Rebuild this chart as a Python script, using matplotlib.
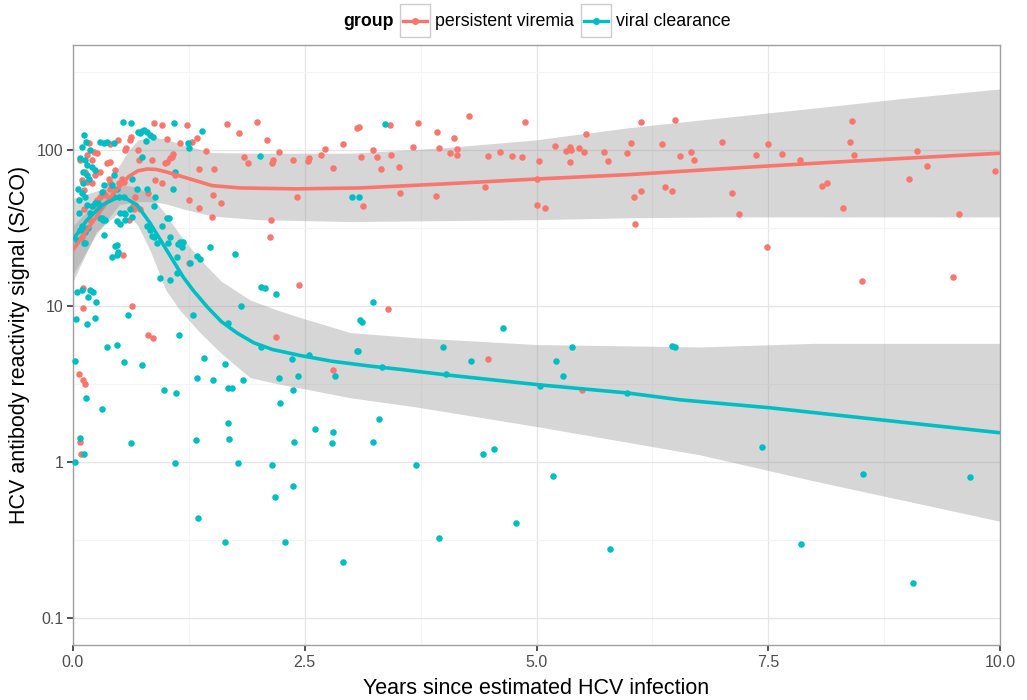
import numpy as np
import matplotlib
matplotlib.use('Agg')
import matplotlib.pyplot as plt
from matplotlib.patches import Rectangle
from matplotlib.lines import Line2D
import matplotlib.ticker as ticker

plt.rcParams['font.family'] = ['Liberation Sans', 'DejaVu Sans']

RED = '#F8766D'
TEAL = '#00BFC4'

# persistent viremia: years since infection, S/CO signal
pv_years = [0.87, 0.96, 1.23, 1.66, 1.99, 1.79, 2.09, 2.22, 3.06, 2.91, 2.72, 2.68, 2.55, 2.54,
            2.80, 2.37, 2.16, 2.15, 1.84, 1.89, 1.52, 1.36, 1.43, 1.34, 1.28, 1.15, 1.25, 1.36,
            1.51, 1.50, 1.60, 2.42, 2.14, 2.13, 2.44, 1.25, 1.08, 1.05, 1.01, 1.01, 0.70, 0.63,
            0.61, 0.57, 0.56, 0.49, 0.40, 0.45, 0.53, 0.40, 0.32, 0.29, 0.26, 0.67, 0.65, 0.54,
            0.64, 0.11, 0.11, 0.81, 0.40, 0.17, 0.23, 0.26, 0.15, 0.20, 0.08, 0.13, 0.24, 0.10,
            0.15, 0.20, 0.12, 0.29, 0.37, 0.39, 0.50, 0.40, 0.35, 0.55, 0.71, 0.85, 0.99, 1.07,
            0.88, 0.96, 1.10, 0.12, 0.26, 0.18, 0.10, 0.60, 0.66, 0.72, 0.06, 0.11, 0.13, 0.81,
            0.86, 2.19, 2.80, 0.08, 0.09, 3.09, 3.42, 3.72, 3.93, 4.11, 4.27, 4.88, 3.24, 3.28,
            3.11, 3.43, 3.32, 3.52, 3.67, 3.95, 4.07, 4.14, 4.14, 4.48, 4.61, 4.74, 4.84, 5.03,
            5.20, 5.32, 5.36, 5.37, 5.36, 5.46, 5.51, 5.53, 5.73, 5.77, 5.98, 6.02, 6.13, 6.35,
            6.49, 6.55, 6.67, 6.70, 3.53, 3.92, 3.13, 4.44, 5.01, 5.09, 6.05, 6.13, 6.39, 6.46,
            6.06, 3.40, 4.48, 5.49, 5.01, 7.00, 7.11, 7.18, 7.37, 7.50, 7.65, 7.84, 8.08, 8.13,
            8.31, 8.38, 8.40, 8.42, 9.02, 9.10, 9.21, 9.56, 9.95, 7.49, 8.51, 9.49]
pv_signal = [150, 146, 146, 148, 152, 129, 117, 98, 139, 110, 102, 94, 89, 85,
             77, 87, 87, 83, 91, 83, 76, 76, 99, 120, 113, 112, 48, 43,
             52, 37.5, 46, 50, 36, 28, 13.7, 19, 95, 89, 84, 118, 101, 122,
             117, 104, 101, 117, 84, 75, 66, 62, 54, 50, 48, 50, 44, 21.4,
             10, 9.8, 13.1, 53, 110, 112, 98, 96, 94, 87, 87, 73, 70, 65,
             63, 62, 56, 73, 83, 66, 62, 57, 52, 63, 87, 87, 83, 91,
             65, 62, 70, 42, 43, 36, 28, 36, 42, 42, 3.7, 3.4, 3.2, 6.6,
             6.3, 6.4, 3.9, 1.35, 1.14, 141, 146, 150, 131, 120, 166, 152, 101, 91,
             91, 94, 76, 78, 105, 104, 96, 102, 94, 92, 98, 92, 91, 85,
             107, 99, 105, 101, 84, 104, 98, 128, 98, 85, 96, 112, 152, 110,
             157, 92, 98, 87, 53, 51, 44, 58, 45, 43, 50, 55, 58, 55,
             34, 9.7, 4.6, 2.9, 66, 113, 53, 39, 94, 110, 95, 87, 59, 62,
             43, 113, 155, 94, 66, 99, 80, 39, 74, 24, 14.5, 15.5]

# viral clearance
vc_years = [0.02, 0.37, 0.47, 0.55, 0.74, 1.14, 1.41, 1.64, 1.34, 1.51, 1.83, 1.67, 1.72, 0.98,
            1.11, 0.14, 0.31, 1.67, 2.23, 2.37, 2.43, 2.22, 2.55, 2.03, 2.36, 2.83, 3.06, 0.08,
            0.12, 0.02, 0.63, 1.33, 1.68, 1.10, 1.78, 2.15, 2.37, 2.61, 2.80, 2.79, 2.38, 2.18,
            1.35, 1.64, 2.29, 2.91, 4.02, 5.29, 5.04, 5.98, 3.30, 3.24, 3.70, 4.42, 4.54, 5.18,
            4.78, 3.95, 5.79, 3.24, 3.12, 4.64, 3.07, 3.99, 4.29, 5.21, 5.38, 6.46, 6.49, 3.33,
            3.37, 3.01, 3.09, 7.43, 8.52, 9.68, 7.85, 9.06, 0.54, 0.63, 1.09, 1.39, 0.70, 0.74,
            0.80, 0.83, 0.86, 0.79, 1.24, 1.25, 2.02, 1.10, 0.69, 0.80, 0.87, 1.01, 0.96, 1.08,
            0.51, 0.47, 0.64, 0.61, 0.56, 0.80, 0.83, 0.85, 0.87, 1.12, 1.13, 1.19, 1.18, 1.02,
            1.05, 0.94, 1.34, 1.37, 1.48, 1.75, 2.03, 2.07, 2.19, 1.81, 1.29, 1.67, 3.10, 0.33,
            0.42, 0.47, 0.49, 0.47, 0.04, 0.10, 0.18, 0.22, 0.16, 0.25, 0.03, 0.15, 0.24, 0.59,
            0.13, 0.16, 0.11, 0.08, 0.32, 0.29, 0.27, 0.12, 0.14, 0.10, 0.29, 0.33, 0.37, 0.44,
            0.18, 0.08, 0.13, 0.15, 0.20, 0.24, 0.11, 0.15, 0.17, 0.11, 0.05, 0.10, 0.06, 0.13,
            0.15, 0.06, 0.20, 0.24, 0.18, 0.31, 0.33, 0.42, 0.44, 0.47, 0.50, 0.44, 0.55, 0.64,
            0.74, 0.72, 0.77, 0.88, 0.31, 0.35, 0.10, 0.13, 0.04, 0.12, 0.55, 0.56, 0.51, 1.04,
            0.91, 0.45, 1.05, 1.15, 1.12, 1.26]
vc_signal = [4.5, 5.5, 5.7, 4.4, 4.2, 6.6, 4.7, 4.3, 3.5, 3.4, 3.4, 3.0, 3.0, 2.9,
             2.8, 2.6, 2.2, 1.8, 2.4, 2.9, 3.6, 3.5, 4.9, 5.5, 4.6, 3.6, 5.2, 1.44,
             1.14, 1.0, 1.33, 1.4, 1.42, 0.99, 0.99, 0.97, 0.71, 1.65, 1.56, 1.33, 1.35, 0.6,
             0.44, 0.31, 0.31, 0.23, 3.7, 3.6, 3.1, 2.8, 1.9, 1.35, 0.97, 1.14, 1.22, 0.82,
             0.41, 0.33, 0.28, 10.7, 7.9, 7.3, 5.2, 5.5, 4.5, 4.5, 5.5, 5.6, 5.5, 4.1,
             148, 50, 50, 1.25, 0.84, 0.81, 0.30, 0.17, 152, 150, 150, 133, 131, 133,
             131, 126, 122, 115, 112, 104, 92, 73, 57, 57, 44, 37, 33, 57,
             40, 35.5, 37.5, 42, 39, 33, 31, 28.3, 27.9, 16.3, 25.2, 25.9, 24, 25.5,
             14.8, 15.2, 21.1, 20.2, 24, 21.7, 13.3, 13.1, 12, 10, 8.8, 7.8, 8.2, 28.7,
             20.8, 24.8, 22.4, 21.4, 12.4, 12.8, 12.8, 12.4, 11.5, 10.6, 8.3, 7.7, 8.4, 8.8,
             25.5, 32, 32, 31, 36, 37, 46, 126, 113, 105, 113, 112, 113, 112,
             101, 89, 87, 81, 78, 75, 73, 70, 66, 62, 57, 53, 48, 50,
             45, 40, 44, 46, 40, 54, 60, 60, 70, 57, 50, 50, 50, 66,
             91, 129, 135, 50, 37, 36, 33, 30, 26.7, 25.5, 40, 36, 34, 37,
             25.5, 24.4, 27.9, 25.9, 20.8, 19]

# loess fits with 95% bands
pv_fit_x = [0, 0.2, 0.4, 0.6, 0.7, 0.8, 0.9, 1.0, 1.25, 1.5, 1.8, 2.4, 3.1, 4.0, 5.0, 6.0, 6.8,
            7.5, 8.5, 10]
pv_fit_y = [23, 34, 50, 68, 74, 76, 75.5, 73, 66, 59.5, 57.5, 56.7, 57.5, 61, 65.6, 70, 75,
            79.5, 86, 96]
pv_band_x = [0, 0.25, 0.5, 0.6, 0.7, 0.85, 1.0, 1.2, 1.5, 2.0, 3.0, 4.0, 5.0, 6.0, 7.0, 8.0,
             9.0, 10]
pv_upper = [33, 47, 80, 100, 117, 122, 118, 108, 97, 96, 96, 104, 117, 140, 162, 187, 217, 248]
pv_lower = [16, 29, 45, 46, 47, 47, 45.5, 42, 38, 36, 35, 35.5, 36, 37, 37.5, 37.5, 37.5, 37.5]

vc_fit_x = [0, 0.15, 0.32, 0.47, 0.54, 0.69, 0.83, 1.01, 1.19, 1.3, 1.45, 1.6, 1.77, 1.95,
            2.15, 2.45, 2.8, 3.2, 3.53, 4.03, 5.04, 5.98, 6.55, 7.52, 8.52, 10]
vc_fit_y = [26.7, 35.8, 44.8, 49.7, 50.4, 44.8, 34.3, 23, 15.4, 12.6, 9.9, 8.0, 6.76, 5.85,
            5.3, 4.85, 4.45, 4.15, 3.95, 3.64, 3.14, 2.79, 2.52, 2.24, 1.93, 1.55]
vc_band_x = [0, 0.25, 0.54, 0.7, 0.83, 1.0, 1.15, 1.37, 1.6, 1.91, 2.2, 2.45, 2.99, 3.7, 5.0,
             6.76, 8.0, 10]
vc_upper = [49, 55, 60, 58, 52, 39, 29, 20, 14.5, 11, 9.5, 8.5, 6.8, 6.3, 5.7, 5.5, 5.8, 5.8]
vc_lower = [14.5, 30, 42, 33, 23, 12.8, 9.5, 6.8, 5.0, 3.5, 3.2, 3.0, 2.6, 2.27, 1.7, 1.12,
            0.76, 0.42]

fig = plt.figure(figsize=(10.27, 7.0), dpi=100)
ax = fig.add_axes([73 / 1027, 55 / 700, 927 / 1027, 600 / 700])

ax.set_yscale('log')
ax.set_xlim(0, 10)
ax.set_ylim(0.0676, 474)

# grid: majors plus half-decade / half-step minors
ax.xaxis.set_major_locator(ticker.FixedLocator([0, 2.5, 5, 7.5, 10]))
ax.xaxis.set_minor_locator(ticker.FixedLocator([1.25, 3.75, 6.25, 8.75]))
ax.yaxis.set_major_locator(ticker.FixedLocator([0.1, 1, 10, 100]))
ax.yaxis.set_minor_locator(ticker.FixedLocator([10 ** -0.5, 10 ** 0.5, 10 ** 1.5, 10 ** 2.5]))
ax.xaxis.set_major_formatter(ticker.FixedFormatter(['0.0', '2.5', '5.0', '7.5', '10.0']))
ax.yaxis.set_major_formatter(ticker.FixedFormatter(['0.1', '1', '10', '100']))
ax.yaxis.set_minor_formatter(ticker.NullFormatter())
ax.grid(which='major', color='#E5E5E5', lw=0.9)
ax.grid(which='minor', color='#F4F4F4', lw=0.8)
ax.set_axisbelow(True)

ax.tick_params(which='major', length=4, width=1.2, color='#333333', labelsize=11.5,
               labelcolor='#4D4D4D', pad=3)
ax.tick_params(which='minor', length=0)
for sp in ax.spines.values():
    sp.set_color('#A0A0A0')
    sp.set_linewidth(1.0)

ax.fill_between(pv_band_x, pv_lower, pv_upper, color='#999999', alpha=0.4, lw=0, zorder=2)
ax.fill_between(vc_band_x, vc_lower, vc_upper, color='#999999', alpha=0.4, lw=0, zorder=2)

ax.scatter(pv_years, pv_signal, s=22, color=RED, lw=0, zorder=3, clip_on=False)
ax.scatter(vc_years, vc_signal, s=22, color=TEAL, lw=0, zorder=3, clip_on=False)

ax.plot(pv_fit_x, pv_fit_y, color=RED, lw=2.6, zorder=4, solid_capstyle='butt')
ax.plot(vc_fit_x, vc_fit_y, color=TEAL, lw=2.6, zorder=4, solid_capstyle='butt')

ax.set_xlabel('Years since estimated HCV infection', fontsize=15.5, labelpad=6)
ax.set_ylabel('HCV antibody reactivity signal (S/CO)', fontsize=15.5, labelpad=5)

# legend strip across the top
W, H = 1027, 700
fig.text(343 / W, 1 - 21 / H, 'group', fontsize=12.8, fontweight='bold', va='center', ha='left')
for x0, col, lab in [(400, RED, 'persistent viremia'), (581, TEAL, 'viral clearance')]:
    fig.patches.append(Rectangle((x0 / W, 1 - 37 / H), 30 / W, 33 / H, transform=fig.transFigure,
                                 facecolor='white', edgecolor='#CCCCCC', lw=1.0))
    fig.lines.append(Line2D([(x0 + 3) / W, (x0 + 27) / W], [1 - 20.5 / H] * 2, transform=fig.transFigure,
                            color=col, lw=2.4))
    fig.lines.append(Line2D([(x0 + 15) / W], [1 - 20.5 / H], transform=fig.transFigure,
                            color=col, marker='o', ms=4, lw=0))
    fig.text((x0 + 35) / W, 1 - 21 / H, lab, fontsize=12.8, va='center', ha='left')

fig.savefig('out.png', dpi=100)
